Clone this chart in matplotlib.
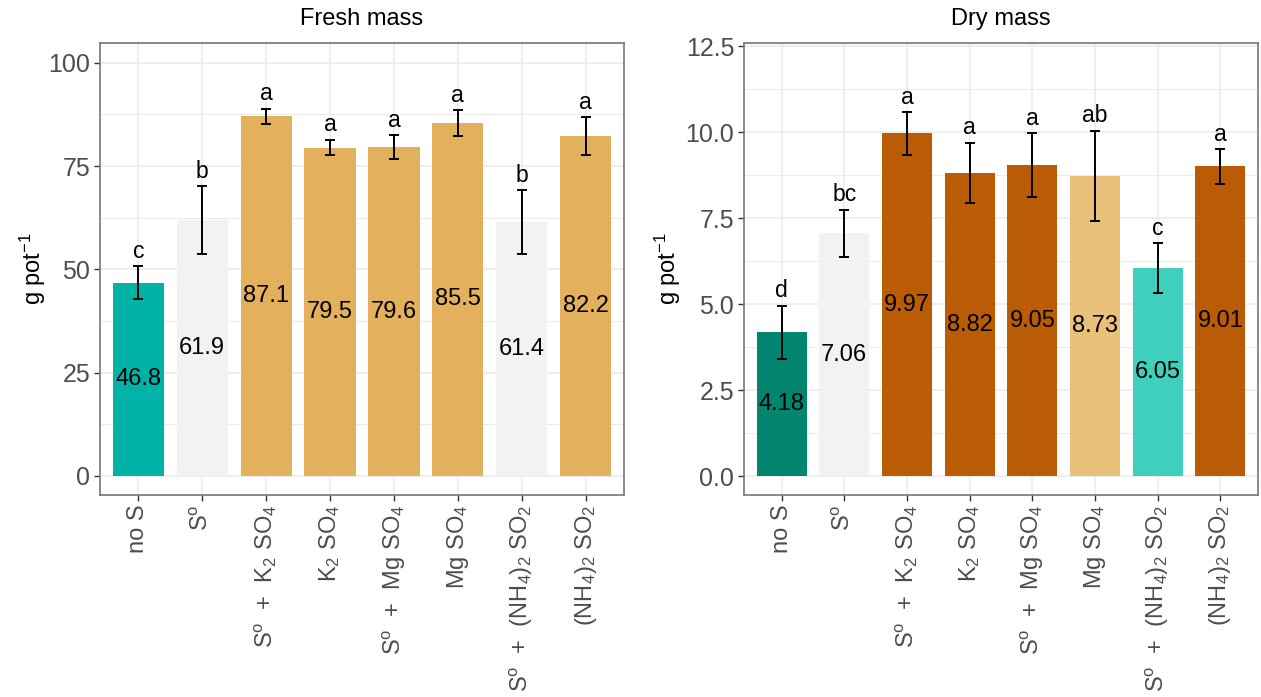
import matplotlib.pyplot as plt
import numpy as np

plt.rcParams['font.family'] = ['Liberation Sans', 'DejaVu Sans']
plt.rcParams['mathtext.fontset'] = 'custom'
plt.rcParams['mathtext.rm'] = 'Liberation Sans'
plt.rcParams['mathtext.it'] = 'Liberation Sans:italic'

# Data
treatments = ["no S", r"S$^{\mathrm{o}}$",
              r"S$^{\mathrm{o}}$  +  K$_{2}$ SO$_{4}$", r"K$_{2}$ SO$_{4}$",
              r"S$^{\mathrm{o}}$  +  Mg SO$_{4}$", r"Mg SO$_{4}$",
              r"S$^{\mathrm{o}}$  +  (NH$_{4}$)$_{2}$ SO$_{2}$", r"(NH$_{4}$)$_{2}$ SO$_{2}$"]

fresh_mean = [46.8, 61.9, 87.1, 79.5, 79.6, 85.5, 61.4, 82.2]
fresh_err = [4.0, 8.2, 1.8, 1.9, 2.9, 3.1, 7.7, 4.6]
fresh_letters = ["c", "b", "a", "a", "a", "a", "b", "a"]
fresh_colors = ["#00B3A6", "#F2F2F2", "#E3B15B", "#E3B15B",
                "#E3B15B", "#E3B15B", "#F2F2F2", "#E3B15B"]

dry_mean = [4.18, 7.06, 9.97, 8.82, 9.05, 8.73, 6.05, 9.01]
dry_err = [0.78, 0.69, 0.62, 0.88, 0.92, 1.32, 0.72, 0.50]
dry_letters = ["d", "bc", "a", "a", "a", "ab", "c", "a"]
dry_colors = ["#01856F", "#F2F2F2", "#BA5C06", "#BA5C06",
              "#BA5C06", "#E8C07A", "#3ECFBD", "#BA5C06"]

W, H = 1261, 697
fig = plt.figure(figsize=(W / 100, H / 100), dpi=100)


def panel(rect, title, means, errs, letters, colors, ylim, yticks, minor, fmt):
    ax = fig.add_axes(rect)
    x = np.arange(len(means))
    ax.set_axisbelow(True)
    ax.bar(x, means, width=0.8, color=colors, zorder=2)
    ax.errorbar(x, means, yerr=errs, fmt="none", ecolor="black",
                elinewidth=1.4, capsize=3.8, capthick=1.4, zorder=3)
    for xi, m, e, lt in zip(x, means, errs, letters):
        ax.annotate(lt, (xi, m + e), xytext=(0, 6), textcoords="offset points",
                    ha="center", va="baseline", fontsize=16.5)
        ax.text(xi, m / 2, fmt.format(m), ha="center", va="center", fontsize=17)
    ax.set_xlim(-0.6, len(means) - 0.4)
    ax.set_ylim(*ylim)
    ax.set_yticks(yticks)
    ax.set_yticks(minor, minor=True)
    ax.set_xticks(x)
    ax.set_xticklabels(treatments, rotation=90, fontsize=17, color="#4D4D4D")
    ax.tick_params(axis="y", labelsize=18, labelcolor="#4D4D4D")
    ax.tick_params(which="major", length=4, width=1, color="#333333", pad=3)
    ax.tick_params(which="minor", length=0)
    ax.grid(True, which="major", color="#EBEBEB", lw=1.2)
    ax.grid(True, which="minor", axis="y", color="#EBEBEB", lw=0.7)
    for s in ax.spines.values():
        s.set_color("#777777")
        s.set_linewidth(1.2)
    ax.set_ylabel(r"g pot$^{-1}$", fontsize=17)
    ax.set_title(title, fontsize=17, pad=13)
    return ax


ax1 = panel([100 / W, 1 - 495 / H, 524 / W, 452 / H], "Fresh mass",
            fresh_mean, fresh_err, fresh_letters, fresh_colors,
            (-4.6, 104.8), [0, 25, 50, 75, 100],
            [12.5, 37.5, 62.5, 87.5], "{:.1f}")
ax1.yaxis.labelpad = 0

ax2 = panel([744 / W, 1 - 495 / H, 514 / W, 452 / H], "Dry mass",
            dry_mean, dry_err, dry_letters, dry_colors,
            (-0.55, 12.6), [0, 2.5, 5.0, 7.5, 10.0, 12.5],
            [1.25, 3.75, 6.25, 8.75, 11.25], "{:.2f}")
ax2.set_yticklabels(["0.0", "2.5", "5.0", "7.5", "10.0", "12.5"])
ax2.yaxis.labelpad = 2

fig.savefig("out.png", dpi=100)
